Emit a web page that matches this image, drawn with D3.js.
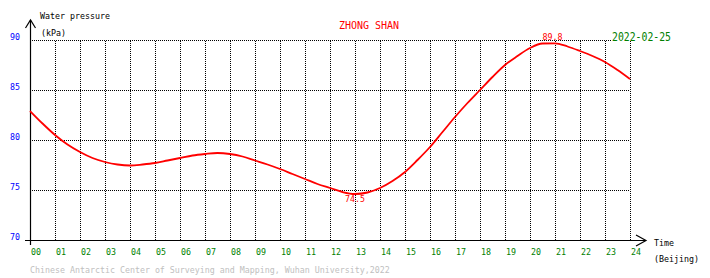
<!DOCTYPE html>
<html>
<head>
<meta charset="utf-8">
<script src="https://cdn.jsdelivr.net/npm/d3@7"></script>
<style>
  body { margin: 0; background: #fff; }
  text { font-family: "DejaVu Sans Mono", "Liberation Mono", monospace; }
  .grid line { stroke: #000; stroke-width: 1; stroke-dasharray: 1,1; shape-rendering: crispEdges; }
  .grid .domain { display: none; }
</style>
</head>
<body>
<div id="chart"></div>
<script>
// hourly tick labels and pressure readings (kPa)
var hourTicks = d3.range(0, 25);
var pressureTicks = [70, 75, 80, 85, 90];

var hours = [0, 0.5, 1, 1.5, 2, 2.5, 3, 3.5, 4, 4.5, 5, 5.5, 6, 6.5, 7, 7.5, 8, 8.5,
  9, 9.5, 10, 10.5, 11, 11.5, 12, 12.5, 13, 13.5, 14, 14.5, 15, 15.5, 16, 16.5,
  17, 17.5, 18, 18.5, 19, 19.5, 20, 20.5, 21, 21.5, 22, 22.5, 23, 23.5, 24];
var pressure = [82.9, 81.65, 80.5, 79.55, 78.8, 78.2, 77.8, 77.55, 77.45, 77.55, 77.7, 77.95,
  78.2, 78.45, 78.6, 78.7, 78.6, 78.35, 77.95, 77.55, 77.1, 76.6, 76.1, 75.6, 75.2, 74.8,
  74.6, 74.75, 75.2, 75.9, 76.8, 78.0, 79.3, 80.8, 82.3, 83.7, 85.0, 86.3, 87.5, 88.4,
  89.2, 89.65, 89.67, 89.35, 88.9, 88.4, 87.8, 87.0, 86.1];

var extremeHours = [13.0, 20.9];
var extremeValues = [74.5, 89.8];
var extremeKinds = ["min", "max"];

var svgWidth = 710;
var svgHeight = 278;

var svg = d3.select("#chart")
  .append("svg")
  .attr("width", svgWidth)
  .attr("height", svgHeight);

var xScale = d3.scaleLinear().domain([0, 24]).range([30, 630]);
var yScale = d3.scaleLinear().domain([70, 90]).range([240, 40]);

// dotted grid
svg.append("g")
  .attr("class", "grid")
  .attr("transform", "translate(0, 240)")
  .call(d3.axisBottom(xScale).tickValues(hourTicks.slice(1)).tickSize(-200).tickFormat(""));

svg.append("g")
  .attr("class", "grid")
  .attr("transform", "translate(30, 0)")
  .call(d3.axisLeft(yScale).tickValues(pressureTicks.slice(1)).tickSize(-600).tickFormat(""));

// tick labels
svg.append("g")
  .selectAll("text")
  .data(hourTicks)
  .enter()
  .append("text")
  .attr("x", d => xScale(d) + 1)
  .attr("y", 255)
  .attr("fill", "#008000")
  .style("font-size", "8.3px")
  .text(d => d3.format("02d")(d));

svg.append("g")
  .selectAll("text")
  .data(pressureTicks)
  .enter()
  .append("text")
  .attr("x", 20)
  .attr("y", d => yScale(d))
  .attr("text-anchor", "end")
  .attr("fill", "#0000ff")
  .style("font-size", "8.3px")
  .text(d => d);

// axes with open arrow heads
var axisGroup = svg.append("g")
  .attr("stroke", "#000")
  .attr("fill", "none")
  .attr("stroke-width", 1.2);

axisGroup.append("line")
  .attr("x1", 25).attr("y1", 240.5)
  .attr("x2", 646).attr("y2", 240.5);
axisGroup.append("path")
  .attr("d", "M636,235 L646,240.5 L636,246");

axisGroup.append("line")
  .attr("x1", 30.5).attr("y1", 245)
  .attr("x2", 30.5).attr("y2", 20);
axisGroup.append("path")
  .attr("d", "M25.5,28 L30.5,20 L35.5,28");

// pressure curve
var line = d3.line()
  .x((d, i) => xScale(hours[i]))
  .y(d => yScale(d))
  .curve(d3.curveMonotoneX);

svg.append("path")
  .datum(pressure)
  .attr("d", line)
  .attr("fill", "none")
  .attr("stroke", "#ff0000")
  .attr("stroke-width", 1.8);

// min / max labels
svg.append("g")
  .selectAll("text")
  .data(extremeValues)
  .enter()
  .append("text")
  .attr("x", (d, i) => xScale(extremeHours[i]))
  .attr("y", (d, i) => extremeKinds[i] == "min" ? yScale(d) + 7 : yScale(d) - 2)
  .attr("text-anchor", "middle")
  .attr("fill", "#ff0000")
  .style("font-size", "8.3px")
  .text(d => d.toFixed(1));

// titles
svg.append("text")
  .attr("x", 40).attr("y", 19)
  .style("font-size", "8.3px")
  .text("Water pressure");

svg.append("text")
  .attr("x", 41).attr("y", 36)
  .style("font-size", "8.3px")
  .text("(kPa)");

svg.append("text")
  .attr("x", 369).attr("y", 28.5)
  .attr("text-anchor", "middle")
  .attr("fill", "#ff0000")
  .style("font-size", "10px")
  .text("ZHONG SHAN");

svg.append("rect")
  .attr("x", 611).attr("y", 30)
  .attr("width", 63).attr("height", 11)
  .attr("fill", "#fff");

svg.append("text")
  .attr("x", 612).attr("y", 40.5)
  .attr("fill", "#008000")
  .attr("textLength", 59)
  .attr("lengthAdjust", "spacingAndGlyphs")
  .style("font-size", "11.5px")
  .text("2022-02-25");

svg.append("text")
  .attr("x", 654).attr("y", 246)
  .style("font-size", "8.3px")
  .text("Time");

svg.append("text")
  .attr("x", 654).attr("y", 262)
  .style("font-size", "8.3px")
  .text("(Beijing)");

svg.append("text")
  .attr("x", 30).attr("y", 273)
  .attr("fill", "#c0c0c0")
  .style("font-size", "8.3px")
  .text("Chinese Antarctic Center of Surveying and Mapping, Wuhan University,2022");
</script>
</body>
</html>
